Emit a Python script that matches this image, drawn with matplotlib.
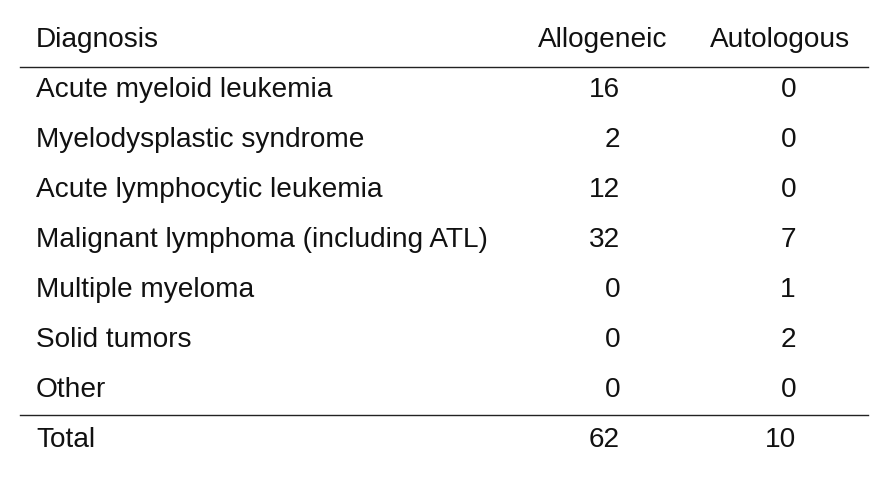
import matplotlib
matplotlib.use("Agg")
import matplotlib.pyplot as plt

headers = ["Diagnosis", "Allogeneic", "Autologous"]
diagnoses = ["Acute myeloid leukemia", "Myelodysplastic syndrome", "Acute lymphocytic leukemia",
             "Malignant lymphoma (including ATL)", "Multiple myeloma", "Solid tumors", "Other"]
allogeneic = [16, 2, 12, 32, 0, 0, 0]
autologous = [0, 0, 0, 7, 1, 2, 0]
total_label = "Total"
total_allo = 62
total_auto = 10

fig = plt.figure(figsize=(8.96, 4.78), dpi=100)
ax = fig.add_axes([0, 0, 1, 1])
ax.set_xlim(0, 896)
ax.set_ylim(478, 0)
ax.axis("off")
fs = 20.2
kw = dict(fontsize=fs, family="Liberation Sans", va="center", color="#111111")

y0, dy = 40, 50
ax.text(36, y0, headers[0], ha="left", **kw)
ax.text(603, y0, headers[1], ha="center", **kw)
ax.text(780, y0, headers[2], ha="center", **kw)
ax.plot([20, 868], [67, 67], color="#222222", lw=1)
for i, (d, a, b) in enumerate(zip(diagnoses, allogeneic, autologous)):
    y = y0 + dy * (i + 1)
    ax.text(36, y, d, ha="left", **kw)
    ax.text(620, y, str(a), ha="right", **kw)
    ax.text(796, y, str(b), ha="right", **kw)
ax.plot([20, 868], [415, 415], color="#222222", lw=1)
yt = y0 + dy * (len(diagnoses) + 1)
ax.text(36, yt, total_label, ha="left", **kw)
ax.text(620, yt, str(total_allo), ha="right", **kw)
ax.text(796, yt, str(total_auto), ha="right", **kw)

fig.savefig("out.png", dpi=100)
